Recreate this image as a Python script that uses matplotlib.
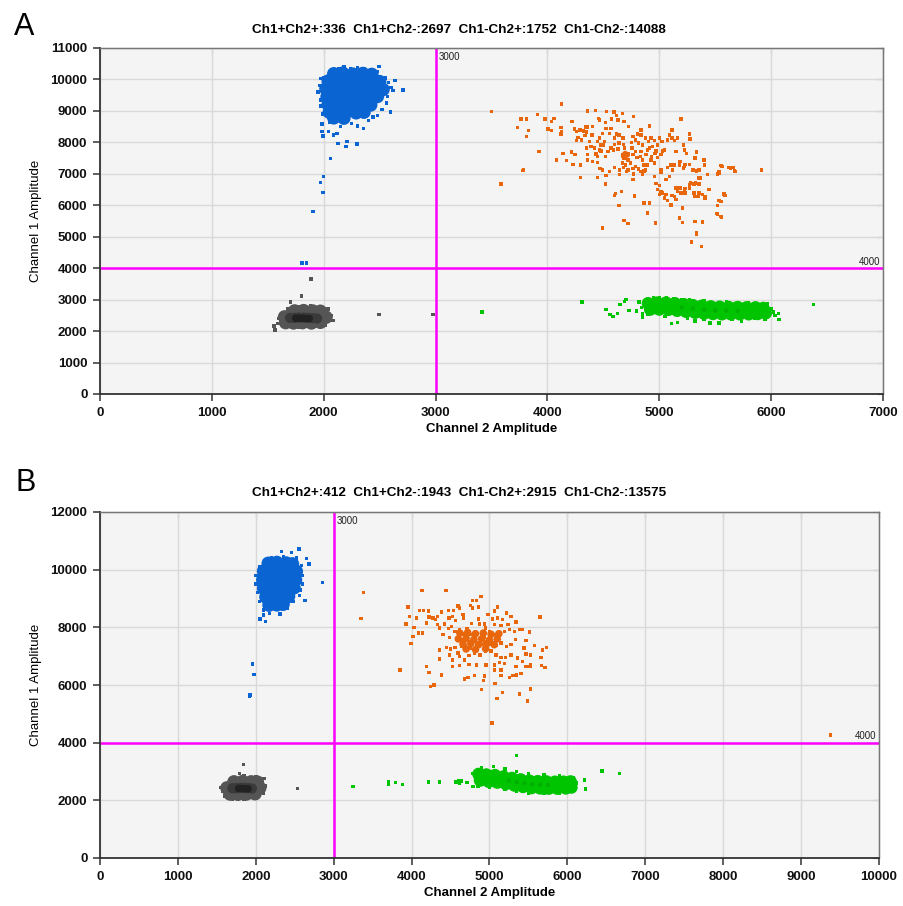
import matplotlib
matplotlib.use('Agg')
import matplotlib.pyplot as plt
import numpy as np

DPI = 100
W_PX, H_PX = 904, 906

BLUE = '#0A64D2'
ORANGE = '#E8660C'
GREEN = '#00C400'
GREEN_DARK = '#00B000'
GRAY = '#555555'
GRAY_MID = '#3A3A3A'
GRAY_DARK = '#222222'
MAGENTA = '#FF00FF'

plt.rcParams['font.family'] = ['Liberation Sans', 'DejaVu Sans']

# ---------------- panel A ----------------
A_TITLE = 'Ch1+Ch2+:336  Ch1+Ch2-:2697  Ch1-Ch2+:1752  Ch1-Ch2-:14088'
A_XTICKS = [0, 1000, 2000, 3000, 4000, 5000, 6000, 7000]
A_YTICKS = [0, 1000, 2000, 3000, 4000, 5000, 6000, 7000, 8000, 9000, 10000, 11000]
A_THRESH_X = 3000
A_THRESH_Y = 4000

# dense body of the Ch1+ (blue) cluster
A_BLUE_CORE = [
    (2090, 10180), (2170, 10200), (2260, 10170), (2350, 10190), (2430, 10160),
    (2040, 9950), (2110, 9960), (2190, 9940), (2280, 9970), (2370, 9950), (2450, 9960), (2500, 9930),
    (2020, 9700), (2090, 9710), (2180, 9690), (2260, 9720), (2340, 9700), (2420, 9690), (2490, 9710), (2530, 9680),
    (2030, 9450), (2100, 9460), (2180, 9440), (2260, 9470), (2340, 9450), (2420, 9440), (2480, 9460),
    (2040, 9200), (2110, 9210), (2190, 9190), (2270, 9220), (2350, 9200), (2420, 9190),
    (2050, 8960), (2120, 8950), (2200, 8970), (2290, 8940), (2360, 8960),
    (2090, 8780), (2180, 8770),
]
A_BLUE = [
    (2000, 10050), (2060, 10250), (2130, 10330), (2180, 10400), (2240, 10350), (2300, 10380),
    (2360, 10330), (2420, 10300), (2480, 10250), (2493, 10420), (2179, 10402), (1976, 10032),
    (2550, 10050), (2580, 9900), (2600, 9750), (2620, 9650), (2636, 9958), (2710, 9661),
    (2597, 8963), (2570, 9450), (2560, 9250), (2520, 9050), (2480, 8850),
    (1960, 9800), (1950, 9600), (1970, 9350), (1975, 9150), (1990, 8900),
    (1985, 8582), (1985, 8339), (1994, 8201), (2045, 8339), (2090, 8233), (2119, 8286),
    (2128, 7968), (2200, 7862), (2209, 8021), (2299, 7947), (2358, 8444), (2304, 8519),
    (2250, 8600), (2150, 8500), (2050, 8650), (2400, 8700), (2440, 8800),
    (2060, 7492), (2000, 6910), (1970, 6730), (1994, 6413), (1904, 5799),
    (1806, 4159), (1845, 4159),
]
# double negative (gray) cluster
A_GRAY_CORE = [
    (1740, 2640), (1820, 2650), (1900, 2640), (1970, 2630),
    (1650, 2450), (1720, 2460), (1800, 2450), (1880, 2460), (1960, 2450), (2020, 2440),
    (1660, 2270), (1730, 2260), (1810, 2270), (1890, 2260), (1970, 2280),
]
A_GRAY_MID = [(1700, 2420), (1740, 2420), (1780, 2430), (1820, 2430), (1860, 2420), (1900, 2410), (1940, 2400)]
A_GRAY_CENTER = [(1750, 2410), (1780, 2410), (1810, 2410), (1840, 2400), (1870, 2400)]
A_GRAY = [
    (1565, 2035), (1556, 2162), (1590, 2250), (1600, 2400), (1620, 2550), (1680, 2700),
    (1705, 2925), (1800, 3115), (1887, 3656), (1780, 2790), (1880, 2800), (1960, 2780),
    (2040, 2702), (2057, 2352), (2087, 2330), (2070, 2500), (2010, 2180), (1900, 2130),
    (1780, 2110), (1680, 2150), (2495, 2522), (2976, 2529),
]
# Ch2+ only (green) cluster
A_GREEN_CORE = [
    (4900, 2880), (4980, 2900), (5060, 2900), (5140, 2880), (5220, 2850), (5300, 2820), (5380, 2800),
    (5460, 2780), (5540, 2770), (5620, 2760), (5700, 2760), (5780, 2750), (5860, 2750), (5930, 2730),
    (4920, 2690), (5000, 2690), (5080, 2680), (5160, 2650), (5240, 2620), (5320, 2590), (5400, 2560),
    (5480, 2550), (5560, 2540), (5640, 2540), (5720, 2540), (5800, 2540), (5880, 2550), (5950, 2570),
]
A_GREEN_CENTER = [(5200, 2750), (5300, 2720), (5400, 2680), (5500, 2660), (5600, 2650), (5700, 2640)]
A_GREEN = [
    (3415, 2603), (4310, 2921), (6379, 2836), (4522, 2677), (4558, 2519), (4588, 2466),
    (4624, 2550), (4648, 2847), (4687, 2942), (4701, 3005), (4731, 2656), (4797, 2635),
    (4818, 2921), (4851, 2444), (5110, 2233), (5161, 2265), (5319, 2317), (5454, 2254),
    (5534, 2254), (5737, 2307), (6021, 2603), (6066, 2550), (6072, 2360), (6036, 2487),
    (5946, 2360), (5991, 2550), (5269, 2995), (5125, 3026), (5066, 3048), (4946, 3048),
    (4840, 2750), (4850, 2560), (5000, 3060), (5200, 3010), (5400, 2970), (5600, 2920),
    (5800, 2900), (5970, 2860), (6000, 2700), (5850, 2400), (5650, 2360), (5400, 2380),
    (5250, 2420), (5050, 2470), (4900, 2520),
]
# double positive (orange) cluster
A_ORANGE = [
    (3500, 8980), (4125, 9220), (3765, 8745), (3815, 8745), (3910, 8895), (3735, 8470),
    (3830, 8385), (3815, 8185), (3980, 8745), (4035, 8660), (4060, 8765), (4005, 8420),
    (4035, 8385), (3925, 7710), (3785, 7125), (3585, 6675), (4080, 7445), (4140, 7655),
    (4170, 7415), (4215, 7690), (4245, 7605), (4230, 7305), (4295, 7285), (4295, 6885),
    (4220, 8660), (4120, 8480), (4125, 8345), (4120, 8260), (4240, 8420), (4260, 8345),
    (4290, 8395), (4320, 8365), (4340, 8490), (4360, 8490), (4350, 8325), (4335, 8215),
    (4275, 8155), (4260, 8050), (4305, 8080), (4360, 9000), (4430, 9010), (4455, 8765),
    (4465, 8715), (4520, 8640), (4530, 8980), (4595, 8960), (4615, 8850), (4575, 8745),
    (4630, 8715), (4670, 8915), (4685, 8660), (4725, 8505), (4770, 8830), (4525, 8450),
    (4490, 8290), (4555, 8290), (4615, 8260), (4600, 8135), (4570, 8450), (4405, 8505),
    (4400, 8240), (4375, 8025), (4390, 7870), (4420, 7815), (4465, 7760), (4435, 7625),
    (4360, 7605), (4360, 7445), (4405, 7390), (4445, 7360), (4480, 7730), (4520, 7550),
    (4540, 7710), (4570, 7815), (4600, 7940), (4640, 7975), (4630, 7785), (4590, 7760),
    (4680, 7940), (4690, 7815), (4670, 7605), (4695, 7570), (4705, 7655), (4720, 7625),
    (4685, 7500), (4720, 7445), (4670, 7340), (4700, 7285), (4740, 7340), (4765, 7605),
    (4755, 7815), (4790, 7710), (4800, 7520), (4830, 7550), (4835, 7710), (4850, 7445),
    (4865, 7285), (4880, 7605), (4895, 7760), (4905, 8025), (4835, 8395), (4835, 8240),
    (4910, 8525), (4925, 8135), (4955, 8050), (4940, 7870), (4970, 7730), (4985, 7920),
    (5000, 8135), (5025, 8025), (5045, 7760), (5015, 7605), (4985, 7520), (4955, 7340),
    (4925, 7445), (4895, 7285), (4875, 7125), (4850, 6970), (4830, 7075), (4790, 7235),
    (4765, 7160), (4720, 7125), (4680, 7200), (4645, 7125), (4600, 7200), (4555, 7075),
    (4525, 6950), (4520, 6675), (4470, 7160), (4490, 7125), (4450, 6885), (4645, 6970),
    (4705, 7075), (4770, 6990), (4765, 6810), (4815, 7150), (4865, 7095), (4955, 6915),
    (4970, 6685), (5015, 7125), (5015, 7045), (5075, 7200), (5105, 7285), (5135, 7285),
    (5120, 7125), (5150, 7710), (5135, 8060), (5115, 8395), (5090, 8240), (5115, 8135),
    (5075, 8080), (5165, 8135), (5195, 8745), (5215, 7920), (5225, 7760), (5270, 8260),
    (5275, 8110), (5245, 7655), (5225, 7235), (5180, 7285), (5185, 7390), (5215, 7180),
    (5230, 7305), (5270, 7305), (5320, 7500), (5335, 7690), (5300, 7125), (5335, 7095),
    (5355, 6865), (5370, 6865), (5400, 7445), (5405, 7285), (5355, 7125), (5430, 6970),
    (5520, 7000), (5535, 7075), (5550, 7265), (5625, 7210), (5660, 7200), (5675, 7095),
    (5090, 6915), (5060, 6810), (5000, 6630), (4985, 6495), (5015, 6440), (5000, 6335),
    (5025, 6385), (5045, 6230), (5060, 6335), (5075, 6145), (5105, 6015), (5115, 6315),
    (5135, 6280), (5150, 6175), (5165, 6440), (5150, 6545), (5185, 6545), (5195, 6385),
    (5225, 6440), (5230, 6385), (5270, 6650), (5280, 6705), (5310, 6675), (5325, 6705),
    (5355, 6675), (5310, 6385), (5320, 6280), (5355, 6385), (5350, 6280), (5385, 6335),
    (5415, 6280), (5410, 6230), (5445, 6495), (5270, 6545), (5230, 6525), (5580, 6355),
    (5535, 6145), (5520, 5985), (5510, 5730), (5550, 5645), (5210, 5910), (5180, 5595),
    (5210, 5455), (5320, 5490), (5385, 5465), (5335, 5115), (5290, 4830), (5380, 4695),
    (4965, 5435), (4895, 5750), (4865, 6070), (4910, 6070), (4780, 6300), (4640, 5985),
    (4600, 6315), (4610, 6365), (4660, 6440), (4685, 5510), (4720, 5415), (4490, 5275),
    (4510, 8025), (4480, 7920), (4350, 7815), (4445, 8025), (4450, 7550), (4500, 7920),
    (4465, 8135), (4790, 8080), (4815, 7975), (4850, 7920), (4750, 7995), (4765, 8185),
    (4805, 8260), (4875, 8135), (4915, 7815), (4930, 7550), (4960, 7655), (5030, 7730),
    (4675, 8135), (4640, 8240), (5913, 7122), (5561, 7238), (5639, 7185), (5678, 7080),
    (5537, 7016), (5588, 6307), (5552, 6116), (5522, 5725), (5558, 5619), (5334, 5090),
    (3582, 6656), (3782, 7100),
]
A_ORANGE_CORE = [(4690, 7620), (4700, 7580), (4680, 7560), (4715, 7600), (4695, 7650)]

# ---------------- panel B ----------------
B_TITLE = 'Ch1+Ch2+:412  Ch1+Ch2-:1943  Ch1-Ch2+:2915  Ch1-Ch2-:13575'
B_XTICKS = [0, 1000, 2000, 3000, 4000, 5000, 6000, 7000, 8000, 9000, 10000]
B_YTICKS = [0, 2000, 4000, 6000, 8000, 10000, 12000]
B_THRESH_X = 3000
B_THRESH_Y = 4000

B_BLUE_CORE = [
    (2160, 10220), (2270, 10250), (2390, 10230), (2470, 10200),
    (2100, 9950), (2200, 9970), (2320, 9950), (2440, 9960), (2520, 9940),
    (2090, 9650), (2190, 9660), (2300, 9640), (2420, 9660), (2510, 9640),
    (2100, 9350), (2200, 9360), (2310, 9340), (2430, 9350), (2490, 9370),
    (2130, 9050), (2230, 9060), (2340, 9040), (2420, 9070),
    (2170, 8770), (2270, 8780), (2350, 8800),
]
B_BLUE = [
    (2555, 10716), (2332, 10622), (2460, 10588), (2653, 10393), (2683, 10196), (2854, 9547),
    (2632, 8924), (2122, 8196), (2054, 8288), (2097, 8427), (2174, 8485), (2311, 8462),
    (2225, 8659), (2577, 9294), (2567, 9988), (2353, 10450), (2153, 10334),
    (2050, 10100), (2000, 9800), (2000, 9500), (2020, 9200), (2050, 8900), (2100, 8600),
    (2400, 8650), (2480, 8900), (2560, 9100), (2600, 9500), (2600, 9800), (2590, 10150),
    (2520, 10400), (2200, 10400), (2120, 10250),
    (1957, 6725), (1979, 6354), (1927, 5648), (1919, 5613),
]
B_GRAY_CORE = [
    (1720, 2640), (1830, 2650), (1940, 2640), (2020, 2630),
    (1630, 2430), (1730, 2440), (1840, 2430), (1950, 2440), (2050, 2430),
    (1670, 2220), (1770, 2210), (1880, 2220), (1990, 2230),
]
B_GRAY_MID = [(1700, 2420), (1750, 2420), (1800, 2430), (1850, 2430), (1900, 2420), (1950, 2410)]
B_GRAY_CENTER = [(1780, 2410), (1820, 2410), (1860, 2400), (1900, 2400)]
B_GRAY = [
    (1550, 2450), (1570, 2300), (1600, 2150), (1700, 2030), (1850, 2020), (2000, 2080),
    (2100, 2250), (2120, 2500), (2107, 2755), (2000, 2830), (1850, 2870), (1700, 2780),
    (1842, 3241), (1790, 2928), (2535, 2407),
]
B_GREEN_CORE = [
    (4860, 2910), (4960, 2890), (5070, 2870), (5180, 2820), (5290, 2770), (5400, 2720),
    (5510, 2680), (5620, 2660), (5730, 2650), (5840, 2640), (5950, 2640), (6040, 2650),
    (4880, 2690), (4990, 2650), (5100, 2620), (5210, 2570), (5320, 2520), (5430, 2470),
    (5540, 2430), (5650, 2420), (5760, 2410), (5870, 2410), (5980, 2420), (6050, 2450),
]
B_GREEN_CENTER = [(5250, 2680), (5350, 2630), (5450, 2590), (5550, 2560), (5650, 2540), (5750, 2530)]
B_GREEN = [
    (5343, 3549), (6444, 3017), (6671, 2936), (6221, 2705), (6230, 2393), (4357, 2647),
    (4563, 2647), (4602, 2671), (4644, 2671), (4709, 2613), (4786, 2936), (4786, 2474),
    (3246, 2488), (3704, 2639), (3704, 2558), (3790, 2616), (3884, 2558), (4218, 2639),
    (4360, 2639), (4570, 2639), (4612, 2604), (4900, 3120), (5050, 3170), (5200, 3080),
    (5350, 3000), (5500, 2920), (5700, 2880), (5900, 2850), (6080, 2800), (6110, 2600),
    (6080, 2400), (5900, 2250), (5700, 2250), (5500, 2240), (5350, 2300), (5200, 2380),
    (5000, 2440), (4850, 2500),
]
B_ORANGE_CORE = [
    (4620, 7800), (4720, 7820), (4820, 7780), (4920, 7800), (5020, 7760), (5120, 7780),
    (4600, 7600), (4700, 7620), (4800, 7580), (4900, 7600), (5000, 7560), (5100, 7600),
    (4660, 7420), (4760, 7440), (4860, 7400), (4960, 7430), (5060, 7400),
    (4700, 7250), (4820, 7230), (4950, 7260),
]
B_ORANGE = [
    (4135, 9280), (4440, 9280), (4890, 9060), (4780, 8930), (4830, 8930), (4755, 8755),
    (4785, 8675), (4860, 8700), (4595, 8735), (4615, 8675), (5105, 8700), (5065, 8560),
    (3955, 8700), (3970, 8385), (3930, 8115), (4030, 8000), (4100, 8580), (4150, 8580),
    (4215, 8560), (4065, 8325), (4190, 8150), (4225, 8360), (4275, 8325), (4305, 8265),
    (4330, 8385), (4385, 8535), (4470, 8580), (4540, 8580), (4525, 8385), (4480, 8325),
    (4565, 8235), (4660, 8440), (4670, 8325), (4330, 8095), (4360, 7975), (4425, 8115),
    (4470, 7955), (4510, 8035), (4405, 7745), (4490, 7650), (4555, 7860), (4615, 7920),
    (4660, 7765), (4710, 7955), (4770, 8130), (4855, 8290), (4870, 8115), (4935, 8115),
    (4980, 8440), (5035, 8290), (5105, 8325), (5170, 8265), (5215, 8500), (5275, 8385),
    (5340, 8185), (5235, 8095), (5150, 8070), (5065, 8095), (4950, 7975), (5000, 7860),
    (4895, 7800), (4830, 7745), (4765, 7745), (4700, 7630), (4640, 7570), (4680, 7420),
    (4745, 7455), (4810, 7510), (4870, 7605), (4935, 7650), (5000, 7685), (5065, 7745),
    (5130, 7800), (5190, 7860), (5255, 7920), (5320, 7860), (5385, 7920), (5425, 7920),
    (5510, 7835), (5650, 8360), (5470, 7535), (5330, 7570), (5275, 7395), (5215, 7335),
    (5150, 7455), (5085, 7370), (5020, 7420), (4955, 7370), (4895, 7395), (4830, 7300),
    (4755, 7280), (4695, 7220), (4640, 7335), (4595, 7105), (4555, 7300), (4500, 7255),
    (4445, 7300), (4360, 7220), (4490, 7045), (4525, 6870), (4615, 6990), (4680, 6870),
    (4735, 7025), (4810, 7105), (4880, 7045), (4950, 7165), (5020, 7185), (5085, 7045),
    (5150, 6955), (5205, 6955), (5275, 7045), (5360, 6930), (5445, 7280), (5470, 7070),
    (5530, 7045), (5575, 7370), (5680, 7220), (5730, 7300), (5660, 6955), (5530, 6695),
    (5425, 6815), (5340, 6640), (5190, 6755), (5130, 6790), (5065, 6695), (4955, 6695),
    (4830, 6695), (4735, 6720), (4615, 6675), (4525, 6640), (4355, 6905), (4190, 6640),
    (4225, 6440), (4385, 6350), (4680, 6210), (4725, 6265), (4810, 6325), (4935, 6315),
    (4925, 6150), (5065, 6525), (5150, 6525), (5150, 6325), (5255, 6255), (5300, 6325),
    (5350, 6350), (5405, 6405), (5470, 6640), (5520, 6640), (5670, 6675), (5710, 6605),
    (5530, 5860), (5385, 5685), (5490, 5440), (5170, 5745), (5095, 5535), (5070, 6060),
    (4895, 5835), (4290, 6000), (4245, 5940), (3850, 6525), (3990, 7440), (4020, 7685),
    (4085, 7800), (4140, 7800), (5030, 4685), (3385, 9200), (3353, 8310), (9380, 4265),
]


def pts(pairs):
    arr = np.array(pairs, dtype=float)
    return arr[:, 0], arr[:, 1]


def draw_panel(ax, xticks, yticks, tx, ty, small, cores, centers):
    ax.set_facecolor('#F4F4F4')
    ax.set_xlim(xticks[0], xticks[-1])
    ax.set_ylim(yticks[0], yticks[-1])
    ax.set_xticks(xticks)
    ax.set_yticks(yticks)
    ax.grid(True, color='#D9D9D9', linewidth=1.0, zorder=0)
    ax.set_axisbelow(True)

    for sp in ax.spines.values():
        sp.set_color('#777777')
        sp.set_linewidth(1.0)
    for side in ('left', 'bottom'):
        ax.spines[side].set_color('#333333')
        ax.spines[side].set_linewidth(1.3)

    ax.tick_params(axis='both', direction='out', length=5, width=1.1, color='#333333',
                   labelsize=9.5, labelcolor='#111111', pad=4)
    for lab in ax.get_xticklabels() + ax.get_yticklabels():
        lab.set_fontweight('bold')

    top = ax.secondary_xaxis('top')
    top.set_xticks(xticks)
    top.tick_params(direction='in', length=4, color='#555555', labeltop=False)
    top.spines['top'].set_color('#555555')
    right = ax.secondary_yaxis('right')
    right.set_yticks(yticks)
    right.tick_params(direction='in', length=4, color='#555555', labelright=False)
    right.spines['right'].set_color('#555555')

    ax.axvline(tx, color=MAGENTA, linewidth=1.8, zorder=2)
    ax.axhline(ty, color=MAGENTA, linewidth=1.8, zorder=2)
    ax.annotate(str(tx), xy=(tx, yticks[-1]), xytext=(2, -3), textcoords='offset points',
                ha='left', va='top', fontsize=7, color='#222222')
    ax.annotate(str(ty), xy=(xticks[-1], ty), xytext=(-2, 1), textcoords='offset points',
                ha='right', va='bottom', fontsize=7, color='#222222')

    for pairs, color, size in cores:
        x, y = pts(pairs)
        ax.scatter(x, y, s=size, marker='o', color=color, edgecolors='none', zorder=3)
    for pairs, color in small:
        x, y = pts(pairs)
        ax.scatter(x, y, s=6, marker='s', color=color, edgecolors='none', zorder=4)
    for pairs, color, size in centers:
        x, y = pts(pairs)
        ax.scatter(x, y, s=size, marker='o', color=color, edgecolors='none', zorder=5)

    ax.set_xlabel('Channel 2 Amplitude', fontsize=9.5, fontweight='bold', labelpad=3)
    ax.set_ylabel('Channel 1 Amplitude', fontsize=9.5, labelpad=6)


fig = plt.figure(figsize=(W_PX / DPI, H_PX / DPI), dpi=DPI)

ax_a = fig.add_axes([100 / W_PX, 1 - 394 / H_PX, 783 / W_PX, 346 / H_PX])
draw_panel(
    ax_a, A_XTICKS, A_YTICKS, A_THRESH_X, A_THRESH_Y,
    small=[(A_GRAY, GRAY), (A_GREEN, GREEN), (A_BLUE, BLUE), (A_ORANGE, ORANGE)],
    cores=[(A_GRAY_CORE, GRAY, 95), (A_GREEN_CORE, GREEN, 85), (A_BLUE_CORE, BLUE, 95),
           (A_ORANGE_CORE, ORANGE, 14)],
    centers=[(A_GRAY_MID, GRAY_MID, 55), (A_GRAY_CENTER, GRAY_DARK, 30),
             (A_GREEN_CENTER, GREEN_DARK, 10)],
)

ax_b = fig.add_axes([100 / W_PX, 1 - 858 / H_PX, 779 / W_PX, 346 / H_PX])
draw_panel(
    ax_b, B_XTICKS, B_YTICKS, B_THRESH_X, B_THRESH_Y,
    small=[(B_GRAY, GRAY), (B_GREEN, GREEN), (B_BLUE, BLUE), (B_ORANGE, ORANGE)],
    cores=[(B_GRAY_CORE, GRAY, 95), (B_GREEN_CORE, GREEN, 85), (B_BLUE_CORE, BLUE, 95),
           (B_ORANGE_CORE, ORANGE, 30)],
    centers=[(B_GRAY_MID, GRAY_MID, 55), (B_GRAY_CENTER, GRAY_DARK, 30),
             (B_GREEN_CENTER, GREEN_DARK, 10)],
)

fig.text(252 / W_PX, 1 - 30 / H_PX, A_TITLE, ha='left', va='center', fontsize=9.7, fontweight='bold')
fig.text(252 / W_PX, 1 - 493 / H_PX, B_TITLE, ha='left', va='center', fontsize=9.7, fontweight='bold')
fig.text(14 / W_PX, 1 - 27 / H_PX, 'A', ha='left', va='center', fontsize=22)
fig.text(15 / W_PX, 1 - 483 / H_PX, 'B', ha='left', va='center', fontsize=22)

fig.savefig('out.png', dpi=DPI)
